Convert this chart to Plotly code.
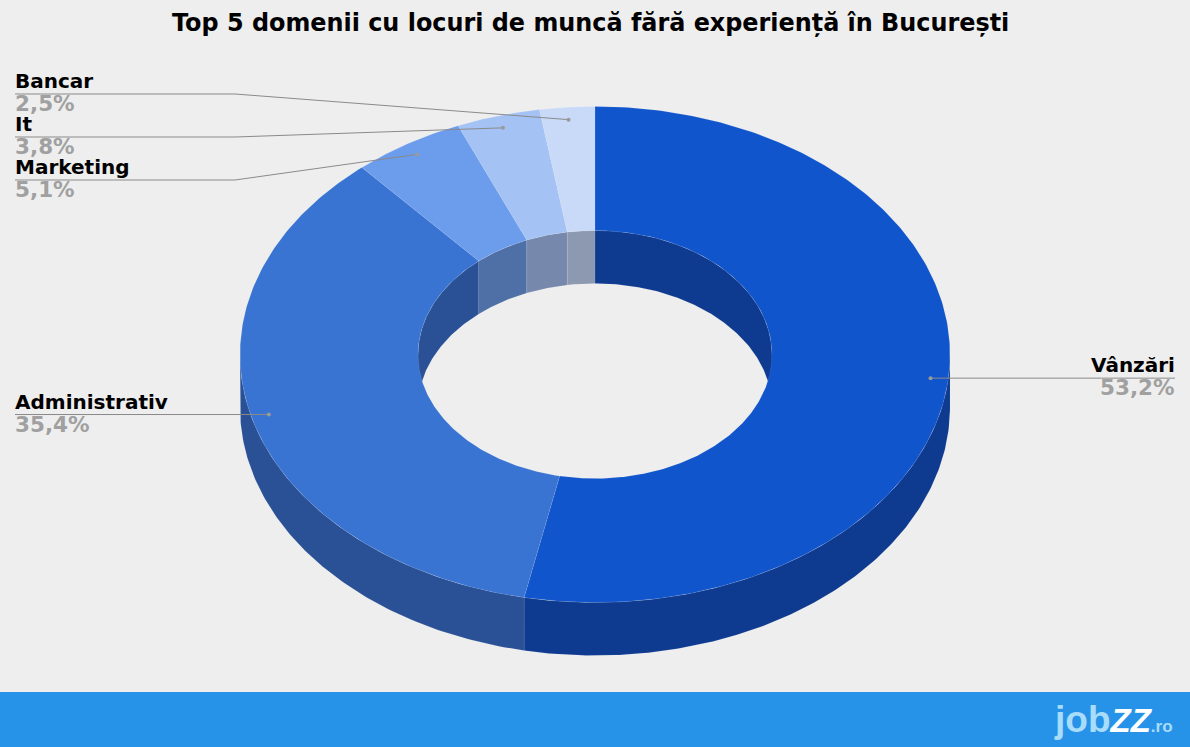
import numpy as np
import plotly.graph_objects as go

# ---- data ----
categories = ["Vânzări", "Administrativ", "Marketing", "It", "Bancar"]
values = [53.2, 35.4, 5.1, 3.8, 2.5]
title_text = "Top 5 domenii cu locuri de muncă fără experiență în București"

# ---- style ----
top_colors = ["#1155cc", "#3a74d2", "#6c9cec", "#a4c2f4", "#c9daf8"]
wall_colors = ["#0e3a8f", "#2a5096", "#4f70a6", "#7688ac", "#8d99b0"]
BG = "#eeeeee"
CX, CY = 595, 354.5
RX, RY = 355, 248
IRX, IRY = 177, 124
DEPTH = 53
EDGE = "rgba(255,255,255,0.14)"
leader_y = [378, 414, 180, 137, 94]
LEFT_X, RIGHT_X, ELBOW_X = 15, 1175, 235
NAME_SIZE, PCT_SIZE = 20, 21.5


def arc(a0, a1, rx, ry, dy=0.0):
    n = max(2, int(abs(a1 - a0) * 1.5))
    t = np.radians(np.linspace(a0, a1, n))
    return CX + rx * np.sin(t), CY - ry * np.cos(t) + dy


def clip(a0, a1, lo, hi):
    s, e = max(a0, lo), min(a1, hi)
    return (s, e) if e > s else None


def polygon(fig, xs, ys, color):
    fig.add_trace(go.Scatter(
        x=np.r_[xs, xs[0]], y=np.r_[ys, ys[0]], mode="lines", fill="toself",
        fillcolor=color, line=dict(color=EDGE, width=0.6), hoverinfo="skip", showlegend=False,
    ))


fig = go.Figure()
edges = np.r_[0, np.cumsum(values)] / np.sum(values) * 360.0

# side walls first, top faces paint over what falls outside the hole
for i in range(len(values)):
    a0, a1 = edges[i], edges[i + 1]
    # visible outer wall: front half
    c = clip(a0, a1, 90, 270)
    if c:
        x1, y1 = arc(c[0], c[1], RX, RY)
        x2, y2 = arc(c[1], c[0], RX, RY, DEPTH)
        polygon(fig, np.r_[x1, x2], np.r_[y1, y2], wall_colors[i])
    # visible inner wall: back half
    for lo, hi in ((0, 90), (270, 360)):
        c = clip(a0, a1, lo, hi)
        if c:
            x1, y1 = arc(c[0], c[1], IRX, IRY)
            x2, y2 = arc(c[1], c[0], IRX, IRY, DEPTH)
            polygon(fig, np.r_[x1, x2], np.r_[y1, y2], wall_colors[i])

for i in range(len(values)):
    a0, a1 = edges[i], edges[i + 1]
    x1, y1 = arc(a0, a1, RX, RY)
    x2, y2 = arc(a1, a0, IRX, IRY)
    polygon(fig, np.r_[x1, x2], np.r_[y1, y2], top_colors[i])

# leaders and labels
annotations = []
for i, name in enumerate(categories):
    mid = np.radians((edges[i] + edges[i + 1]) / 2)
    ax = CX + 0.95 * RX * np.sin(mid)
    ay = CY - 0.95 * RY * np.cos(mid)
    right = np.sin(mid) > 0
    ly = leader_y[i]
    tx = RIGHT_X if right else LEFT_X
    if right or i == 1:
        lx, lys = [ax, tx], [ay, ay]
        ly = ay
    else:
        lx, lys = [ax, ELBOW_X, tx], [ay, ly, ly]
    fig.add_trace(go.Scatter(x=lx, y=lys, mode="lines", line=dict(color="#8a8a8a", width=1),
                             hoverinfo="skip", showlegend=False))
    fig.add_trace(go.Scatter(x=[ax], y=[ay], mode="markers", marker=dict(color="#9a9a9a", size=4),
                             hoverinfo="skip", showlegend=False))
    anchor = "right" if right else "left"
    annotations.append(dict(x=tx, y=ly, xref="x", yref="y", text=f"<b>{name}</b>", showarrow=False,
                            xanchor=anchor, yanchor="bottom", yshift=1,
                            font=dict(family="DejaVu Sans", size=NAME_SIZE, color="#000000"),
                            borderpad=0, borderwidth=0))
    annotations.append(dict(x=tx, y=ly, xref="x", yref="y",
                            text="<b>" + f"{values[i]:.1f}".replace(".", ",") + "%</b>", showarrow=False,
                            xanchor=anchor, yanchor="top", yshift=3,
                            font=dict(family="DejaVu Sans", size=PCT_SIZE, color="#a0a0a0"),
                            borderpad=0, borderwidth=0))

annotations.append(dict(x=590, y=23, xref="x", yref="y", text=f"<b>{title_text}</b>", showarrow=False,
                        xanchor="center", yanchor="middle",
                        font=dict(family="DejaVu Sans", size=23.9, color="#000000")))
annotations.append(dict(x=1052, y=719, xref="x", yref="y", showarrow=False, xanchor="left", yanchor="middle",
                        text="<b><span style='color:#a8dcfb;font-size:37px'>job</span></b>"
                             "<b><i><span style='color:#ffffff;font-size:33px'>ZZ</span></i></b>"
                             "<b><span style='color:#a8dcfb;font-size:17px'>.ro</span></b>",
                        font=dict(family="Liberation Sans", size=36, color="#a8dcfb")))

fig.update_layout(
    width=1190, height=747, margin=dict(l=0, r=0, t=0, b=0),
    paper_bgcolor=BG, plot_bgcolor=BG, showlegend=False,
    xaxis=dict(range=[0, 1190], visible=False, fixedrange=True),
    yaxis=dict(range=[747, 0], visible=False, fixedrange=True),
    annotations=annotations,
    shapes=[dict(type="rect", xref="paper", yref="y", x0=0, x1=1, y0=692, y1=747,
                 fillcolor="#2793e8", line=dict(width=0), layer="below")],
)
fig.write_html("out.html", config=dict(displayModeBar=False),
               post_script="document.body.style.margin='0';document.body.style.overflow='hidden';")
